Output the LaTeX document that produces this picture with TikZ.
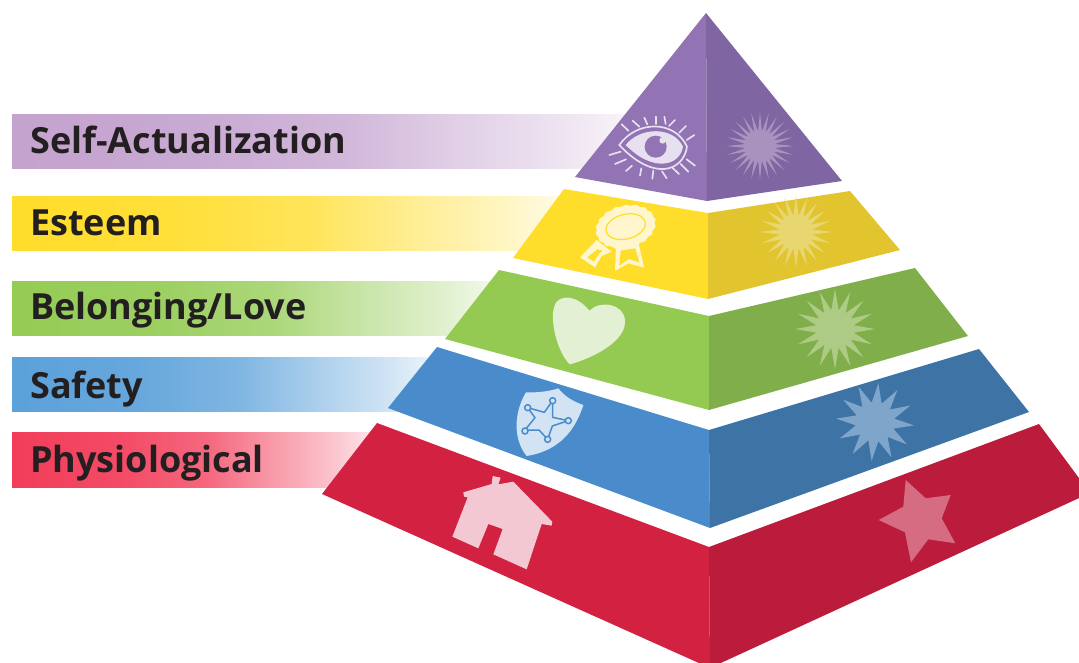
\documentclass[tikz,border=0pt]{standalone}
\usepackage{fontspec}
\setmainfont{Open Sans}
\usetikzlibrary{shapes.geometric}
\definecolor{purpleL}{HTML}{9273B3}
\definecolor{purpleR}{HTML}{7F65A1}
\definecolor{yellowL}{HTML}{FFDD2B}
\definecolor{yellowR}{HTML}{E2C42F}
\definecolor{greenL}{HTML}{94CA52}
\definecolor{greenR}{HTML}{80AE4A}
\definecolor{blueL}{HTML}{4A8CCB}
\definecolor{blueR}{HTML}{3E73A6}
\definecolor{redL}{HTML}{D22141}
\definecolor{redR}{HTML}{BC1C3B}
\definecolor{inkText}{HTML}{231F20}
\definecolor{barPurple}{HTML}{C4A3CF}
\definecolor{barGreen}{HTML}{94CC55}
\definecolor{barBlue}{HTML}{5BA1DA}
\definecolor{barRed}{HTML}{F23D5A}
\definecolor{burstPurple}{HTML}{A893BF}
\definecolor{burstYellow}{HTML}{E8D670}
\definecolor{burstGreen}{HTML}{AECB85}
\definecolor{burstBlue}{HTML}{7FA5CB}
\definecolor{starRed}{HTML}{D56C82}
\definecolor{paleRed}{HTML}{F4C8D2}
\definecolor{paleGreen}{HTML}{E4F0D4}
\definecolor{paleBlue}{HTML}{D2E3F4}
\definecolor{palePurple}{HTML}{E6E0F0}
\definecolor{paleYellow}{HTML}{FFF6CD}
\colorlet{barcolor}{barRed}
\pgfdeclarehorizontalshading[barcolor]{barfade}{100bp}{color(0bp)=(barcolor); color(25bp)=(barcolor); color(40bp)=(barcolor!93!white); color(52bp)=(barcolor!78!white); color(61bp)=(barcolor!52!white); color(70bp)=(barcolor!28!white); color(75bp)=(barcolor!12!white); color(100bp)=(barcolor!12!white)}
\tikzset{
  bar/.style={/utils/exec={\colorlet{barcolor}{#1}}, shading=barfade},
  label/.style={anchor=base west, inner sep=0pt, text=inkText, font=\fontsize{36}{36}\selectfont\bfseries},
  burst/.style={star, draw=none, inner sep=0pt, fill=#1},
  lash/.style={draw=palePurple, line width=1.7pt, line cap=round}
}
\begin{document}
\begin{tikzpicture}[x=1pt,y=-1pt]
        \useasboundingbox (0,0) rectangle (1079,662);
        \clip (0,0) rectangle (1079,662);
        \shade [bar=barPurple] (12,114) rectangle (628,168);
        \shade [bar=yellowL] (12,196) rectangle (562,250);
        \shade [bar=barGreen] (12,281) rectangle (495,335);
        \shade [bar=barBlue] (12,357) rectangle (432,411);
        \shade [bar=barRed] (12,432) rectangle (375,487);
        \node [label] (self) at (30,153) {Self-Actualization};
        \node [label] (esteem) at (30,235) {Esteem};
        \node [label] (love) at (30,319) {Belonging/Love};
        \node [label] (safety) at (30,398) {Safety};
        \node [label] (physio) at (30,472) {Physiological};
        \fill [purpleL] (706,13) -- (575,177) -- (707,201) -- cycle;
        \fill [purpleR] (706,13) -- (842,181) -- (707,201) -- cycle;
        \fill [yellowL] (564,189) -- (708,213) -- (708,299) -- (513,258) -- cycle;
        \fill [yellowR] (850,191) -- (708,213) -- (708,299) -- (900,250) -- cycle;
        \fill [greenL] (499,270) -- (709,316) -- (709,410) -- (445,339) -- cycle;
        \fill [greenR] (915,268) -- (709,316) -- (709,410) -- (968,336) -- cycle;
        \fill [blueL] (437,347) -- (709,430) -- (710,528) -- (388,408) -- cycle;
        \fill [blueR] (979,349) -- (709,430) -- (710,528) -- (1029,412) -- cycle;
        \fill [redL] (377,423) -- (709,547) -- (710,668) -- (322,494) -- cycle;
        \fill [redR] (1039,424) -- (709,547) -- (710,668) -- (1090,493) -- cycle;
        \node [burst=burstPurple, star points=24, star point ratio=2.3, minimum size=68pt] (burstself) at (760,146) {};
        \node [burst=burstYellow, star points=20, star point ratio=2.2, minimum size=72pt] (burstesteem) at (796,232) {};
        \node [burst=burstGreen, star points=16, star point ratio=2.1, minimum size=80pt] (burstlove) at (835,329) {};
        \node [burst=burstBlue, star points=12, star point ratio=2, minimum size=78pt, shape border rotate=-5] (burstsafety) at (875,422) {};
        \fill [starRed] (905.7,480) -- (925.7,498.3) -- (950.7,495) -- (941.7,518.3) -- (955.3,543.3) -- (928.3,539.3) -- (911,562.3) -- (905,532.3) -- (878.7,520) -- (903.3,506.7) -- cycle;
        \begin{scope}[shift={(320,420)},scale=1/3]
                \fill [paleRed] (430,217) -- (515,192) -- (518,168) -- (542,173) -- (535,193) -- (580,185) -- (697,305) -- (695,317) -- (665,312) -- (620,448) -- (520,403) -- (548,327) -- (505,312) -- (475,385) -- (397,350) -- (443,232) -- (432,230) -- cycle;
        \end{scope}
        \begin{scope}[shift={(430,260)},scale=1/3]
                \fill [paleGreen] (478,152) .. controls (450,115) and (405,100) .. (380,125) .. controls (350,165) and (385,285) .. (420,313) .. controls (500,290) and (590,240) .. (585,180) .. controls (580,130) and (510,120) .. (478,152) -- cycle;
                \fill [paleBlue] (288,397) .. controls (320,398) and (355,395) .. (385,385) .. controls (405,410) and (430,425) .. (460,435) .. controls (430,530) and (370,575) .. (290,588) .. controls (250,540) and (250,460) .. (288,397) -- cycle;
                \draw [blueL, line width=1.5pt, line join=round] (343,457) -- (368,422) -- (368,472) -- (415,482) -- (367,498) -- (353,538) -- (327,510) -- (285,510) -- (315,473) -- (293,443) -- cycle;
                \foreach \px/\py in {368/422, 415/482, 353/538, 285/513, 293/443}
                        \filldraw [draw=blueL, line width=1.5pt, fill=paleBlue] (\px,\py) circle [radius=9];
        \end{scope}
        \begin{scope}[shift={(560,0)},scale=1/3]
                \draw [palePurple, line width=1.7pt, fill=purpleL] (178,435) .. controls (230,360) and (345,360) .. (381,440) .. controls (370,515) and (280,545) .. (178,435) -- cycle;
                \fill [palePurple] (197,435) .. controls (240,380) and (340,378) .. (369,440) .. controls (360,497) and (280,520) .. (197,435) -- cycle;
                \fill [purpleL] (287,440) circle [radius=33];
                \fill [palePurple] (308,421) circle [radius=10];
                \foreach \ax/\ay/\bx/\by in {185/373/205/392, 218/362/238/380, 253/353/262/373, 287/350/287/372, 313/350/317/372, 345/360/327/378, 378/378/358/398, 403/405/380/420, 148/465/182/455, 165/492/198/478, 198/513/216/497, 240/527/244/505, 277/536/280/512, 320/535/306/514, 357/522/338/504, 385/515/362/492, 405/497/380/478}
                        \draw [lash] (\ax,\ay) -- (\bx,\by);
                \fill [paleYellow] (110,720) -- (60,772) -- (105,802) -- (125,768) -- (155,755) -- cycle;
                \fill [yellowL] (112,748) -- (82,772) -- (102,785) -- (118,760) -- (128,752) -- cycle;
                \fill [paleYellow] (168,735) -- (165,813) -- (205,790) -- (252,803) -- (235,725) -- cycle;
                \fill [yellowL] (182,752) -- (178,797) -- (207,777) -- (238,788) -- (226,745) -- cycle;
                \fill [paleYellow, rotate around={14:(197,680)}] plot [domain=0:360, samples=145, smooth] ({197+(90+2*cos(18*\x))*cos(\x)}, {680+(63+2*cos(18*\x))*sin(\x)});
                \draw [yellowL, line width=1.2pt, rotate around={14:(197,680)}] (197,680) ellipse [x radius=60, y radius=37];
        \end{scope}
\end{tikzpicture}
\end{document}
